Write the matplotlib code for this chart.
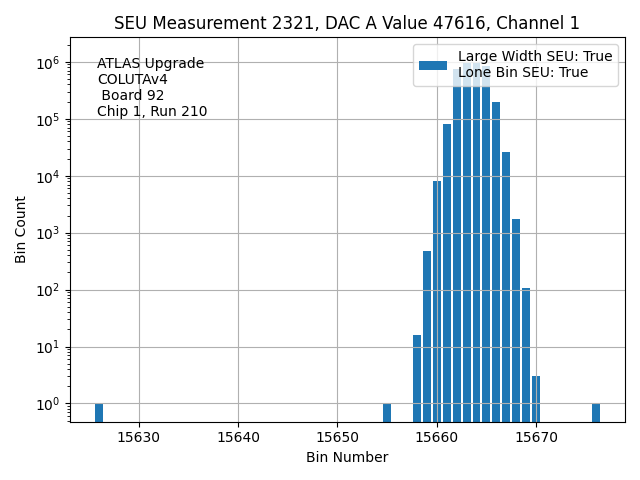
import matplotlib
matplotlib.use("Agg")
import matplotlib.pyplot as plt
import numpy as np

bins = [15626, 15655, 15658, 15659, 15660, 15661, 15662, 15663, 15664, 15665,
        15666, 15667, 15668, 15669, 15670, 15676]
counts = [1, 1, 16, 480, 8000, 80000, 750000, 950000, 950000, 850000,
          198000, 26600, 1740, 105, 3, 1]

title = "SEU Measurement 2321, DAC A Value 47616, Channel 1"
legend_label = "Large Width SEU: True\nLone Bin SEU: True"
info_text = "ATLAS Upgrade\nCOLUTAv4\n Board 92\nChip 1, Run 210"

fig, ax = plt.subplots(figsize=(6.4, 4.8), dpi=100)
ax.bar(bins, counts, label=legend_label)
ax.set_yscale("log")
ax.set_ylim(10 ** -0.32, 10 ** 6.43)
ax.set_title(title)
ax.set_xlabel("Bin Number")
ax.set_ylabel("Bin Count")
ax.grid(True)
ax.legend(loc="upper right")
ax.text(0.05, 0.95, info_text, transform=ax.transAxes, va="top", ha="left")
fig.tight_layout()
fig.savefig("out.png")
